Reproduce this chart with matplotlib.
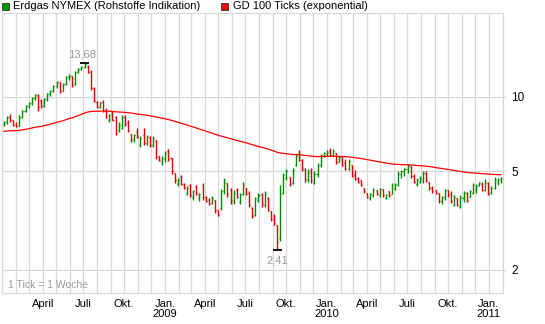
import matplotlib
matplotlib.use("Agg")
import matplotlib.pyplot as plt
import matplotlib.dates as mdates
from matplotlib.patches import Rectangle
from matplotlib.ticker import NullLocator
import pandas as pd

# wochen (1 tick = 1 woche), freitags
wochen = pd.date_range("2008-01-04", periods=161, freq="7D")

# kurse
eroeffnung = [
    7.75, 7.95, 8.3, 8.05, 7.7, 7.65, 8.3, 8.75, 9.2, 9.45, 9.9, 10.2, 9.6, 9.2, 9.85, 10.3,
    10.6, 11.1, 11.45, 10.6, 11.3, 12.0, 12.1, 11.3, 12.6, 13.0, 13.2, 13.4, 12.65, 10.9, 9.55, 9.1,
    9.5, 8.8, 8.1, 8.6, 8.3, 7.35, 7.5, 8.3, 7.9, 7.1, 6.75, 7.2, 6.4, 7.0, 6.5, 6.9,
    6.4, 6.7, 5.75, 5.45, 5.6, 6.05, 5.65, 4.95, 4.45, 4.75, 4.45, 4.05, 4.4, 3.95, 4.35, 3.9,
    4.4, 3.95, 3.85, 3.72, 3.85, 3.5, 3.55, 4.15, 4.5, 4.25, 3.75, 4.2, 3.75, 4.05, 4.3, 4.1,
    3.55, 3.35, 3.85, 4.05, 3.65, 3.9, 3.45, 3.3, 3.05, 2.7, 4.1, 4.7, 4.75, 4.5, 5.3, 5.95,
    5.55, 5.1, 4.6, 5.0, 4.5, 4.9, 5.3, 5.8, 5.9, 6.05, 5.8, 5.95, 5.45, 5.8, 5.4, 5.1,
    5.3, 4.85, 4.7, 4.6, 4.3, 4.1, 3.9, 4.0, 4.2, 4.0, 4.25, 3.9, 4.15, 4.05, 4.3, 4.4,
    4.9, 5.0, 5.1, 5.25, 4.8, 4.45, 4.55, 4.6, 4.95, 4.55, 4.3, 4.2, 4.1, 3.8, 3.95, 4.2,
    4.05, 3.65, 3.9, 3.6, 3.9, 4.1, 3.95, 4.1, 4.25, 4.4, 4.45, 4.2, 4.5, 4.1, 4.3, 4.55,
    4.6,
]
hoch = [
    8.0, 8.35, 8.5, 8.1, 7.9, 8.45, 8.85, 9.3, 9.55, 10.0, 10.25, 10.3, 9.8, 9.95, 10.4, 10.7,
    11.2, 11.55, 11.5, 11.4, 12.1, 12.35, 12.2, 12.7, 13.1, 13.4, 13.68, 13.45, 12.85, 10.95, 9.6, 9.55,
    9.7, 9.0, 8.55, 8.8, 8.35, 7.95, 8.45, 8.45, 8.05, 7.1, 7.1, 7.5, 6.95, 7.5, 7.05, 6.95,
    6.95, 6.7, 5.8, 5.75, 6.05, 6.15, 5.65, 4.95, 4.7, 4.85, 4.5, 4.35, 4.45, 4.2, 4.4, 4.1,
    4.5, 3.97, 3.9, 3.97, 3.85, 3.5, 4.25, 4.7, 4.5, 4.3, 4.2, 4.3, 4.1, 4.55, 4.3, 4.15,
    3.6, 3.95, 4.1, 4.1, 4.15, 3.95, 3.45, 3.38, 3.05, 4.42, 4.95, 5.1, 4.75, 5.15, 5.9, 6.1,
    5.6, 5.15, 5.1, 5.15, 5.0, 5.4, 5.9, 6.0, 6.1, 6.2, 6.15, 5.95, 5.8, 5.8, 5.6, 5.6,
    5.3, 5.05, 4.75, 4.6, 4.3, 4.1, 4.1, 4.3, 4.22, 4.3, 4.25, 4.05, 4.15, 4.5, 4.5, 5.0,
    5.05, 5.15, 5.35, 5.25, 4.9, 4.7, 4.78, 5.0, 5.0, 4.55, 4.35, 4.2, 4.1, 3.97, 4.25, 4.22,
    4.15, 4.0, 3.9, 4.0, 4.15, 4.12, 4.22, 4.5, 4.45, 4.55, 4.55, 4.65, 4.55, 4.35, 4.75, 4.7,
    4.75,
]
tief = [
    7.65, 7.8, 7.95, 7.6, 7.55, 7.6, 8.2, 8.7, 9.05, 9.3, 9.7, 8.75, 9.05, 9.1, 9.6, 10.05,
    10.5, 10.9, 10.4, 10.55, 11.2, 11.7, 11.0, 11.2, 12.5, 12.8, 13.05, 12.55, 10.7, 9.5, 9.0, 9.05,
    8.7, 8.2, 7.95, 8.05, 7.0, 7.25, 7.45, 7.6, 7.25, 6.6, 6.6, 6.8, 6.3, 6.4, 6.4, 6.3,
    6.3, 5.6, 5.5, 5.3, 5.45, 5.5, 4.9, 4.5, 4.35, 4.4, 4.25, 4.0, 3.95, 3.85, 4.0, 3.8,
    3.85, 3.75, 3.65, 3.7, 3.4, 3.3, 3.5, 4.05, 3.95, 3.7, 3.7, 3.9, 3.7, 4.0, 4.0, 3.6,
    3.25, 3.3, 3.78, 3.6, 3.6, 3.45, 3.15, 3.05, 2.41, 2.62, 4.05, 4.6, 4.35, 4.45, 5.25, 5.5,
    5.0, 4.55, 4.55, 4.5, 4.45, 4.75, 5.2, 5.7, 5.75, 5.8, 5.75, 5.35, 5.45, 5.25, 5.05, 5.05,
    4.75, 4.6, 4.5, 4.35, 4.1, 3.92, 3.85, 3.95, 4.0, 3.95, 3.95, 3.87, 3.95, 4.05, 4.2, 4.35,
    4.7, 4.8, 4.95, 4.7, 4.5, 4.35, 4.5, 4.5, 4.55, 4.22, 4.1, 4.05, 3.73, 3.7, 3.85, 3.95,
    3.72, 3.62, 3.62, 3.56, 3.75, 3.75, 3.95, 4.05, 4.1, 4.35, 4.15, 4.18, 4.0, 4.05, 4.25, 4.4,
    4.5,
]
schluss = [
    7.95, 8.3, 8.05, 7.7, 7.65, 8.3, 8.75, 9.2, 9.45, 9.9, 10.15, 9.1, 9.2, 9.85, 10.3, 10.6,
    11.1, 11.45, 10.6, 11.3, 12.0, 12.2, 11.2, 12.6, 13.0, 13.2, 13.55, 12.65, 10.9, 9.6, 9.1, 9.5,
    8.8, 8.3, 8.45, 8.1, 7.15, 7.7, 8.3, 7.75, 7.35, 6.7, 7.0, 6.9, 6.8, 6.5, 6.9, 6.4,
    6.8, 5.7, 5.55, 5.65, 5.95, 5.6, 5.0, 4.6, 4.6, 4.45, 4.3, 4.3, 4.0, 4.15, 4.05, 4.05,
    3.95, 3.8, 3.7, 3.92, 3.5, 3.35, 4.15, 4.55, 4.05, 3.85, 4.1, 3.95, 4.05, 4.4, 4.05, 3.65,
    3.3, 3.9, 4.0, 3.7, 4.05, 3.5, 3.2, 3.1, 2.6, 4.05, 4.85, 5.0, 4.45, 5.05, 5.8, 5.55,
    5.1, 4.65, 4.95, 4.6, 4.9, 5.3, 5.85, 5.95, 6.0, 5.85, 6.05, 5.45, 5.7, 5.3, 5.1, 5.5,
    4.8, 4.65, 4.55, 4.4, 4.15, 3.95, 4.05, 4.2, 4.05, 4.25, 4.0, 4.0, 4.0, 4.4, 4.45, 4.9,
    5.0, 5.1, 5.25, 4.8, 4.55, 4.6, 4.7, 4.95, 4.6, 4.3, 4.15, 4.08, 3.8, 3.95, 4.2, 4.0,
    3.8, 3.95, 3.65, 3.95, 4.1, 3.8, 4.15, 4.4, 4.35, 4.5, 4.2, 4.55, 4.05, 4.3, 4.6, 4.65,
    4.7,
]

# GD startwert am linken rand und laenge
gd_start = 7.25
gd_ticks = 100

hoch_punkt = 13.68
tief_punkt = 2.41

y_ticks = [2, 5, 10]
x_tick_daten = ["2008-04-01", "2008-07-01", "2008-10-01", "2009-01-01",
                "2009-04-01", "2009-07-01", "2009-10-01", "2010-01-01",
                "2010-04-01", "2010-07-01", "2010-10-01", "2011-01-01"]
x_tick_namen = ["April", "Juli", "Okt.", "Jan.\n2009", "April", "Juli", "Okt.",
                "Jan.\n2010", "April", "Juli", "Okt.", "Jan.\n2011"]

gruen = "#008a00"
rot = "#e00000"
gitter = "#d9d9d9"

plt.rcParams["font.family"] = ["Liberation Sans", "DejaVu Sans"]


# exponentieller gleitender durchschnitt ueber die schlusskurse
def gleitender_durchschnitt(kurse, start, n):
    a = 2.0 / (n + 1)
    werte = []
    gd = start
    for k in kurse:
        gd = gd + a * (k - gd)
        werte.append(gd)
    return werte


fig = plt.figure(figsize=(5.45, 3.24), dpi=100)
ax = fig.add_axes([2 / 545, 1 - 293 / 324, 501 / 545, 280 / 324])

x = mdates.date2num(wochen)
farben = [gruen if c >= o else rot for o, c in zip(eroeffnung, schluss)]

# ohlc balken
ax.vlines(x, tief, hoch, colors=farben, lw=1.0)
ax.hlines(eroeffnung, x - 2.3, x, colors=farben, lw=1.0)
ax.hlines(schluss, x, x + 2.3, colors=farben, lw=1.0)

# GD linie
gd = gleitender_durchschnitt(schluss, gd_start, gd_ticks)
ax.plot(x, gd, color="#ff0000", lw=0.9)

# hoch und tief markieren
i_hoch = hoch.index(hoch_punkt)
i_tief = tief.index(tief_punkt)
ax.hlines(hoch_punkt, x[i_hoch] - 10, x[i_hoch] + 10, color="black", lw=1.3)
ax.hlines(tief_punkt, x[i_tief] - 10, x[i_tief] + 10, color="black", lw=1.3)
ax.annotate("13,68", (x[i_hoch], hoch_punkt), xytext=(-2, 2.5), textcoords="offset points",
            ha="center", va="bottom", color="#999999", fontsize=8)
ax.annotate("2,41", (x[i_tief], tief_punkt), xytext=(0, -4), textcoords="offset points",
            ha="center", va="top", color="#999999", fontsize=8)

ax.set_yscale("log")
ax.set_ylim(1.614, 21.84)
ax.set_xlim(mdates.datestr2num("2007-12-31"), mdates.datestr2num("2011-02-02"))

ax.yaxis.tick_right()
ax.set_yticks(y_ticks)
ax.set_yticklabels([str(v) for v in y_ticks])
ax.yaxis.set_minor_locator(NullLocator())
ax.tick_params(axis="y", length=2, color=gitter, pad=4, labelsize=8.5)

ax.set_xticks(mdates.datestr2num(x_tick_daten))
ax.set_xticklabels(x_tick_namen, linespacing=1.0)
ax.xaxis.set_minor_locator(mdates.MonthLocator())
ax.tick_params(axis="x", which="both", length=0, pad=4, labelsize=8)

ax.grid(axis="x", which="both", color=gitter, lw=0.9)
ax.grid(axis="y", which="major", color=gitter, lw=0.9)
ax.set_axisbelow(True)
for s in ax.spines.values():
    s.set_color(gitter)
    s.set_linewidth(0.9)

ax.text(0.012, 0.01, "1 Tick = 1 Woche", transform=ax.transAxes, fontsize=7.5,
        color="#999999", ha="left", va="bottom")

# legende oben
fig.patches.append(Rectangle((2 / 545, 1 - 10 / 324), 7 / 545, 7 / 324,
                             transform=fig.transFigure, facecolor="#009900",
                             edgecolor="#333333", lw=0.6))
fig.text(13 / 545, 1 - 6 / 324, "Erdgas NYMEX (Rohstoffe Indikation)",
         fontsize=8, va="center", ha="left")
fig.patches.append(Rectangle((221 / 545, 1 - 10 / 324), 7 / 545, 7 / 324,
                             transform=fig.transFigure, facecolor="#ff0000",
                             edgecolor="#333333", lw=0.6))
fig.text(233 / 545, 1 - 6 / 324, "GD 100 Ticks (exponential)",
         fontsize=8, va="center", ha="left")

fig.savefig("out.png", dpi=100, facecolor="white")
